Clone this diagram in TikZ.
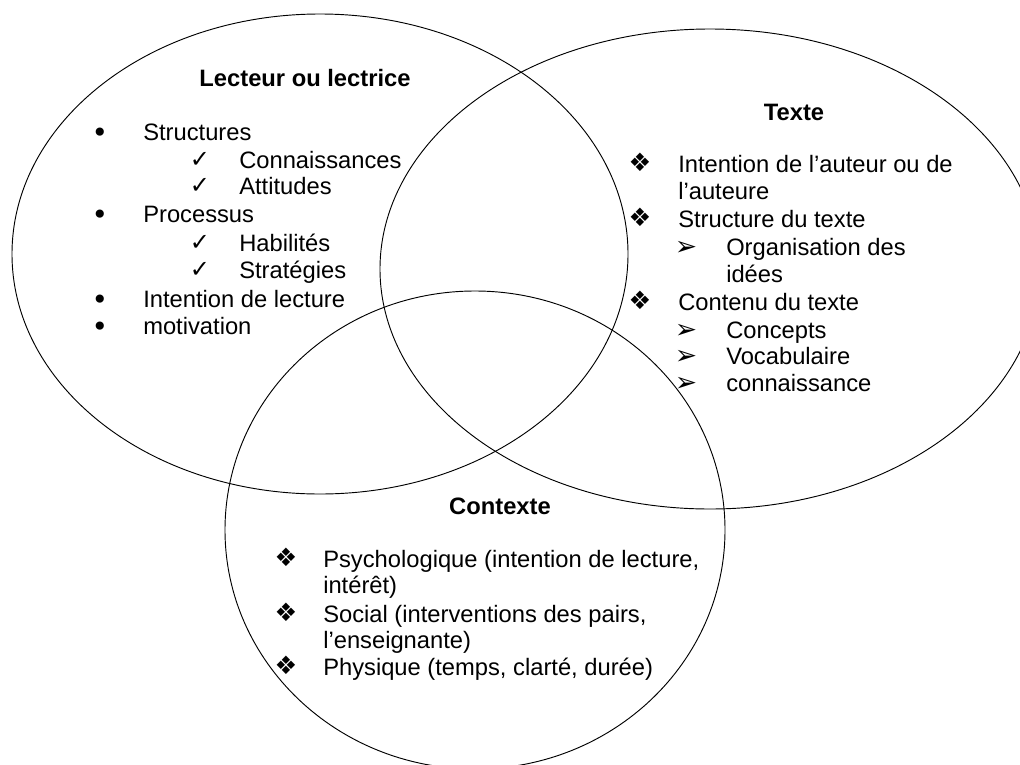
\documentclass[tikz,border=0pt]{standalone}
\usepackage{fontspec}
\setmainfont{Liberation Sans}
\newfontfamily\symfont{DejaVu Sans}
\usetikzlibrary{shapes.geometric}
\tikzset{
  venn/.style={draw, ellipse, line width=0.7pt, inner sep=0pt},
  lbl/.style={anchor=base west, inner sep=0pt, font=\fontsize{17.8}{21}\selectfont},
  ttl/.style={anchor=base, inner sep=0pt, font=\fontsize{17.8}{21}\selectfont\bfseries},
  dot/.style={anchor=base, inner sep=0pt, font=\symfont\fontsize{21}{22}\selectfont},
  chk/.style={anchor=base, inner sep=0pt, font=\symfont\fontsize{18}{20}\selectfont},
  dia/.style={anchor=base, inner sep=0pt, font=\symfont\fontsize{19}{21}\selectfont},
  arr/.style={anchor=base, inner sep=0pt, font=\symfont\fontsize{20}{22}\selectfont}
}
\begin{document}
\begin{tikzpicture}[x=0.75pt, y=-0.75pt]
\useasboundingbox (0,0) rectangle (1020,764);
% ellipses
\node[venn, minimum width=462pt, minimum height=360pt] (lect) at (320,254) {};
\node[venn, minimum width=495pt, minimum height=360pt] (texte) at (710,269) {};
\node[venn, minimum width=375pt, minimum height=358.5pt] (ctx) at (475,530) {};
% Lecteur
\node[ttl] (t1) at (305,86) {Lecteur ou lectrice};
\node[dot] (b1) at (100,142) {•};
\node[lbl] (l1) at (143,140) {Structures};
\node[chk] (c1) at (200,167) {✓};
\node[lbl] (l2) at (239,168) {Connaissances};
\node[chk] (c2) at (200,193) {✓};
\node[lbl] (l3) at (239,194) {Attitudes};
\node[dot] (b2) at (100,224) {•};
\node[lbl] (l4) at (143,222) {Processus};
\node[chk] (c3) at (200,250) {✓};
\node[lbl] (l5) at (239,251) {Habilités};
\node[chk] (c4) at (200,277) {✓};
\node[lbl] (l6) at (239,278) {Stratégies};
\node[dot] (b3) at (100,309) {•};
\node[lbl] (l7) at (143,307) {Intention de lecture};
\node[dot] (b4) at (100,336) {•};
\node[lbl] (l8) at (143,334) {motivation};
% Texte
\node[ttl] (t2) at (794,120) {Texte};
\node[dia] (d1) at (640,171) {❖};
\node[lbl] (r1) at (678,172) {Intention de l’auteur ou de};
\node[lbl] (r2) at (678,199) {l’auteure};
\node[dia] (d2) at (640,226) {❖};
\node[lbl] (r3) at (678,227) {Structure du texte};
\node[arr] (a1) at (686,255) {➢};
\node[lbl] (r4) at (726,255) {Organisation des};
\node[lbl] (r5) at (726,282) {idées};
\node[dia] (d3) at (640,309) {❖};
\node[lbl] (r6) at (678,310) {Contenu du texte};
\node[arr] (a2) at (686,338) {➢};
\node[lbl] (r7) at (726,338) {Concepts};
\node[arr] (a3) at (686,364) {➢};
\node[lbl] (r8) at (726,364) {Vocabulaire};
\node[arr] (a4) at (686,391) {➢};
\node[lbl] (r9) at (726,391) {connaissance};
% Contexte
\node[ttl] (t3) at (500,514) {Contexte};
\node[dia] (e1) at (286,566) {❖};
\node[lbl] (k1) at (323,567) {Psychologique (intention de lecture,};
\node[lbl] (k2) at (323,593) {intérêt)};
\node[dia] (e2) at (286,621) {❖};
\node[lbl] (k3) at (323,622) {Social (interventions des pairs,};
\node[lbl] (k4) at (323,648) {l’enseignante)};
\node[dia] (e3) at (286,674) {❖};
\node[lbl] (k5) at (323,675) {Physique (temps, clarté, durée)};
\end{tikzpicture}
\end{document}
